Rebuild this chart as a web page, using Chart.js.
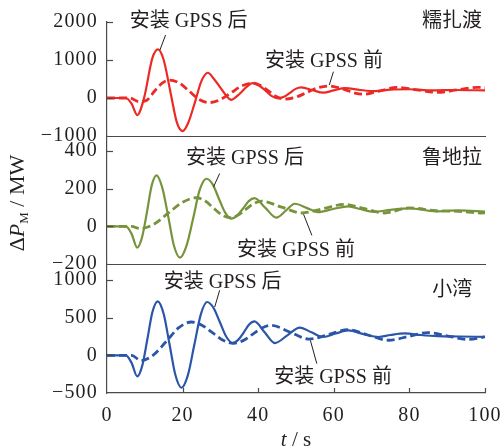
<!DOCTYPE html>
<html><head><meta charset="utf-8">
<script src="https://cdn.jsdelivr.net/npm/chart.js@4/dist/chart.umd.min.js"></script>
<style>html,body{margin:0;padding:0;background:#fff}#wrap{width:504px;height:448px;position:relative}canvas{display:block}</style>
</head><body><div id="wrap"><canvas id="c" width="504" height="448"></canvas></div>
<script>
// ---------- DATA ----------
// 糯扎渡 (top panel)
const tNzdAfter  = [0,5,6.5,8,9.8,12,13.5,15,16.7,18.5,20,21.5,23.3,25,26.7,28.3,29.8,31.4,32.9,34.3,35.7,37,38.5,40.2,42,43.6,45.3,46.8,48.4,49.9,51.4,54.3,57.2,60,63,67,71,75,80,86,92,100];
const vNzdAfter  = [0,0,-150,-450,0,1050,1280,1000,200,-650,-870,-650,-100,450,665,500,300,80,-50,40,170,300,390,330,190,50,-10,30,135,240,280,210,140,200,260,210,180,220,230,200,210,200];
const tNzdBefore = [0,6,8.5,10.5,12.6,14.6,16.6,19.2,21.8,24.4,27,29.9,32.8,35.6,38.5,40.6,42.8,44.9,47,49.9,52.8,55.6,58.5,60.9,63.3,65.6,68,72.3,76.7,82,87.5,92.7,98,100];
const vNzdBefore = [0,0,-100,-60,185,390,470,390,175,-40,-120,-45,135,315,390,330,180,30,-30,20,142,265,315,280,208,130,100,190,280,215,150,215,280,270];
// 鲁地拉 (middle panel)
const tLdlAfter  = [0,5,6.5,8,9.3,10.6,11.8,13.1,14.6,16.2,17.7,19.3,21,22.8,24.5,26.3,28,29.6,31.3,32.9,34.4,36,37.5,39,41.9,44.8,47.3,49.7,52.8,55.8,59.8,63.8,67,70.5,75,80,87,93,100];
const vLdlAfter  = [0,0,-40,-113,-56,79,215,271,207,52,-102,-166,-105,43,192,253,222,147,72,41,57,95,134,150,98,46,83,120,98,76,92,106,92,77,88,96,80,85,78];
const tLdlBefore = [0,6.5,8.7,12.5,16.2,20,23.7,25.9,28.1,30.3,32.5,34.6,36.7,38.8,40.9,46.2,51.5,57.2,62.9,68.1,73.4,80,87,93,99,100];
const vLdlBefore = [0,0,-12,12,70,128,152,136,99,62,46,59,90,121,134,102,71,94,117,94,71,98,83,80,71,72];
// 小湾 (bottom panel)
const tXwAfter   = [0,5,6.5,8,9.35,10.7,12,13.4,15,16.55,18.1,19.7,21.4,23.1,24.8,26.5,28.2,29.9,31.6,33.3,34.7,36.2,37.6,39,41.7,44.4,47.7,51,54.1,57.2,60.5,63.8,68,71.8,75,78.8,83,87.5,93,100];
const vXwAfter   = [0,0,-100,-279,-133,219,571,717,549,143,-262,-430,-263,139,541,708,628,435,243,163,205,306,408,450,306,163,265,368,305,243,290,330,280,243,270,290,270,255,250,245];
const tXwBefore  = [0,6.5,9,12.3,15.7,19,22.3,25.1,27.9,30.7,33.5,36,38.5,41,43.5,48.5,53.5,58.7,63.8,69,74.5,79.7,84.9,90.2,95.5,100];
const vXwBefore  = [0,0,-70,5,186,367,442,400,301,201,160,195,279,363,398,306,215,278,341,270,200,250,301,255,210,245];

// tick labels
const xTicks  = [0,20,40,60,80,100];
const yTicksA = [-1000,0,1000,2000];
const yTicksB = [-200,0,200,400];
const yTicksC = [-500,0,500,1000];

const stationNames = ['糯扎渡','鲁地拉','小湾'];
const labelAfter = '安装 GPSS 后';
const labelBefore = '安装 GPSS 前';

// ---------- STYLE ----------
const RED = '#ec2a25', GREEN = '#77933c', BLUE = '#2b55a8';
const AXIS = '#4a4a4a', TXT = '#231f20';
const SERIF = "'Liberation Serif','Noto Sans CJK SC',serif";

const pts = (t, v) => t.map((x, i) => ({x, y: v[i]}));
function ds(t, v, color, axis, dashed) {
  return {data: pts(t, v), yAxisID: axis, borderColor: color, backgroundColor: color,
    borderWidth: dashed ? 2.8 : 2.2, borderDash: dashed ? [8, 4] : [], pointRadius: 0,
    cubicInterpolationMode: 'monotone', fill: false};
}

// annotation positions in data coordinates
const notes = [
  {axis:'yA', t:21.6, v:2000, text:labelAfter, align:'center'},
  {axis:'yA', t:57.4, v:947,  text:labelBefore, align:'center'},
  {axis:'yA', t:99.2, v:2000, text:stationNames[0], align:'right'},
  {axis:'yB', t:36.5, v:361,  text:labelAfter, align:'center'},
  {axis:'yB', t:50,   v:-127, text:labelBefore, align:'center'},
  {axis:'yB', t:99.2, v:361,  text:stationNames[1], align:'right'},
  {axis:'yC', t:30.6, v:969,  text:labelAfter, align:'center'},
  {axis:'yC', t:59.8, v:-292, text:labelBefore, align:'center'},
  {axis:'yC', t:96.6, v:863,  text:stationNames[2], align:'right'},
];
const leaders = [
  {axis:'yA', t1:15.5, v1:1658, t2:14.0, v2:1263},
  {axis:'yA', t1:59.9, v1:692,  t2:58.8, v2:342},
  {axis:'yB', t1:29.8, v1:281,  t2:28.2, v2:210},
  {axis:'yB', t1:54.2, v1:-48,  t2:52.0, v2:64},
  {axis:'yC', t1:29.8, v1:863,  t2:28.5, v2:641},
  {axis:'yC', t1:55.5, v1:-110, t2:53.8, v2:199},
];

const deco = {
  id: 'deco',
  beforeDraw(chart) { chart.ctx.letterSpacing = '1.2px'; },
  afterDraw(chart) {
    const ctx = chart.ctx, ca = chart.chartArea;
    ctx.save();
    ctx.letterSpacing = '0px';
    ctx.strokeStyle = AXIS; ctx.lineWidth = 1.2;
    const line = (x1, y1, x2, y2) => { ctx.beginPath(); ctx.moveTo(x1, y1); ctx.lineTo(x2, y2); ctx.stroke(); };
    for (const id of ['yA', 'yB']) { const s = chart.scales[id]; const y = Math.round(s.getPixelForValue(s.min)) + 0.5; line(ca.left, y, ca.right + 1, y); }
    for (const id of ['yA', 'yB', 'yC']) {
      const s = chart.scales[id];
      s.ticks.forEach(tk => { if (tk.value === s.min) return; const y = Math.round(s.getPixelForValue(tk.value)) + 0.5; line(ca.left, y, ca.left + 6, y); });
    }
    const sx = chart.scales.x;
    sx.ticks.forEach(tk => { if (tk.value === sx.min) return; const x = Math.round(sx.getPixelForValue(tk.value)) + 0.5; line(x, ca.bottom, x, ca.bottom - 5); });
    // leaders
    ctx.strokeStyle = TXT; ctx.lineWidth = 1;
    leaders.forEach(l => { const s = chart.scales[l.axis]; line(sx.getPixelForValue(l.t1), s.getPixelForValue(l.v1), sx.getPixelForValue(l.t2), s.getPixelForValue(l.v2)); });
    // notes
    ctx.fillStyle = TXT; ctx.font = '20px ' + SERIF; ctx.textBaseline = 'middle';
    notes.forEach(n => { const s = chart.scales[n.axis]; ctx.textAlign = n.align; ctx.fillText(n.text, sx.getPixelForValue(n.t), s.getPixelForValue(n.v)); });
    // y title
    ctx.save();
    ctx.translate(24, 203); ctx.rotate(-Math.PI / 2);
    ctx.textBaseline = 'alphabetic'; ctx.textAlign = 'left';
    const parts = [
      {s:'Δ', f:'22px ' + SERIF, dy:0},
      {s:'P', f:'italic 22px ' + SERIF, dy:0},
      {s:'M', f:'13px ' + SERIF, dy:4},
      {s:' / MW', f:'22px ' + SERIF, dy:0},
    ];
    let w = 0; parts.forEach(p => { ctx.font = p.f; p.w = ctx.measureText(p.s).width; w += p.w; });
    let x = -w / 2;
    parts.forEach(p => { ctx.font = p.f; ctx.fillText(p.s, x, p.dy); x += p.w; });
    ctx.restore();
    // x title
    ctx.textBaseline = 'middle'; ctx.textAlign = 'left';
    const xp = [{s:'t', f:'italic 21px ' + SERIF}, {s:' / s', f:'21px ' + SERIF}];
    let xw = 0; xp.forEach(p => { ctx.font = p.f; p.w = ctx.measureText(p.s).width; xw += p.w; });
    let xx = 296 - xw / 2;
    xp.forEach(p => { ctx.font = p.f; ctx.fillText(p.s, xx, 440); xx += p.w; });
    ctx.restore();
  }
};

const fmt = v => (v < 0 ? '\u2212' + Math.abs(v) : String(v));
function yScale(min, max, ticks, weight) {
  return {
    type: 'linear', position: 'left', stack: 'panels', stackWeight: weight, min, max,
    afterBuildTicks: s => { s.ticks = ticks.map(v => ({value: v})); },
    afterFit: s => { s.width = 107; s.paddingTop = 0; s.paddingBottom = 0; },
    grid: {display: false, drawTicks: false},
    border: {display: true, color: AXIS, width: 1.2},
    ticks: {color: TXT, font: {family: SERIF, size: 20}, padding: 9, callback: fmt, autoSkip: false}
  };
}

new Chart(document.getElementById('c'), {
  type: 'line',
  data: {datasets: [
    ds(tNzdAfter, vNzdAfter, RED, 'yA', false),
    ds(tNzdBefore, vNzdBefore, RED, 'yA', true),
    ds(tLdlAfter, vLdlAfter, GREEN, 'yB', false),
    ds(tLdlBefore, vLdlBefore, GREEN, 'yB', true),
    ds(tXwAfter, vXwAfter, BLUE, 'yC', false),
    ds(tXwBefore, vXwBefore, BLUE, 'yC', true),
  ]},
  options: {
    responsive: false, animation: false, devicePixelRatio: 1,
    layout: {padding: {left: 0, right: 19, top: 22, bottom: 0}},
    plugins: {legend: {display: false}, tooltip: {enabled: false}},
    scales: {
      x: {type: 'linear', position: 'bottom', min: 0, max: 100,
        afterBuildTicks: s => { s.ticks = xTicks.map(v => ({value: v})); },
        afterFit: s => { s.height = 55; s.paddingLeft = 0; s.paddingRight = 0; },
        grid: {display: false, drawTicks: false},
        border: {display: true, color: AXIS, width: 1.2},
        ticks: {color: TXT, font: {family: SERIF, size: 20}, padding: 11, maxRotation: 0, autoSkip: false}},
      yC: yScale(-500, 1212, yTicksC, 129),
      yB: yScale(-200, 480, yTicksB, 128),
      yA: yScale(-1000, 2000, yTicksA, 114),
    }
  },
  plugins: [deco]
});
</script>
</body></html>
